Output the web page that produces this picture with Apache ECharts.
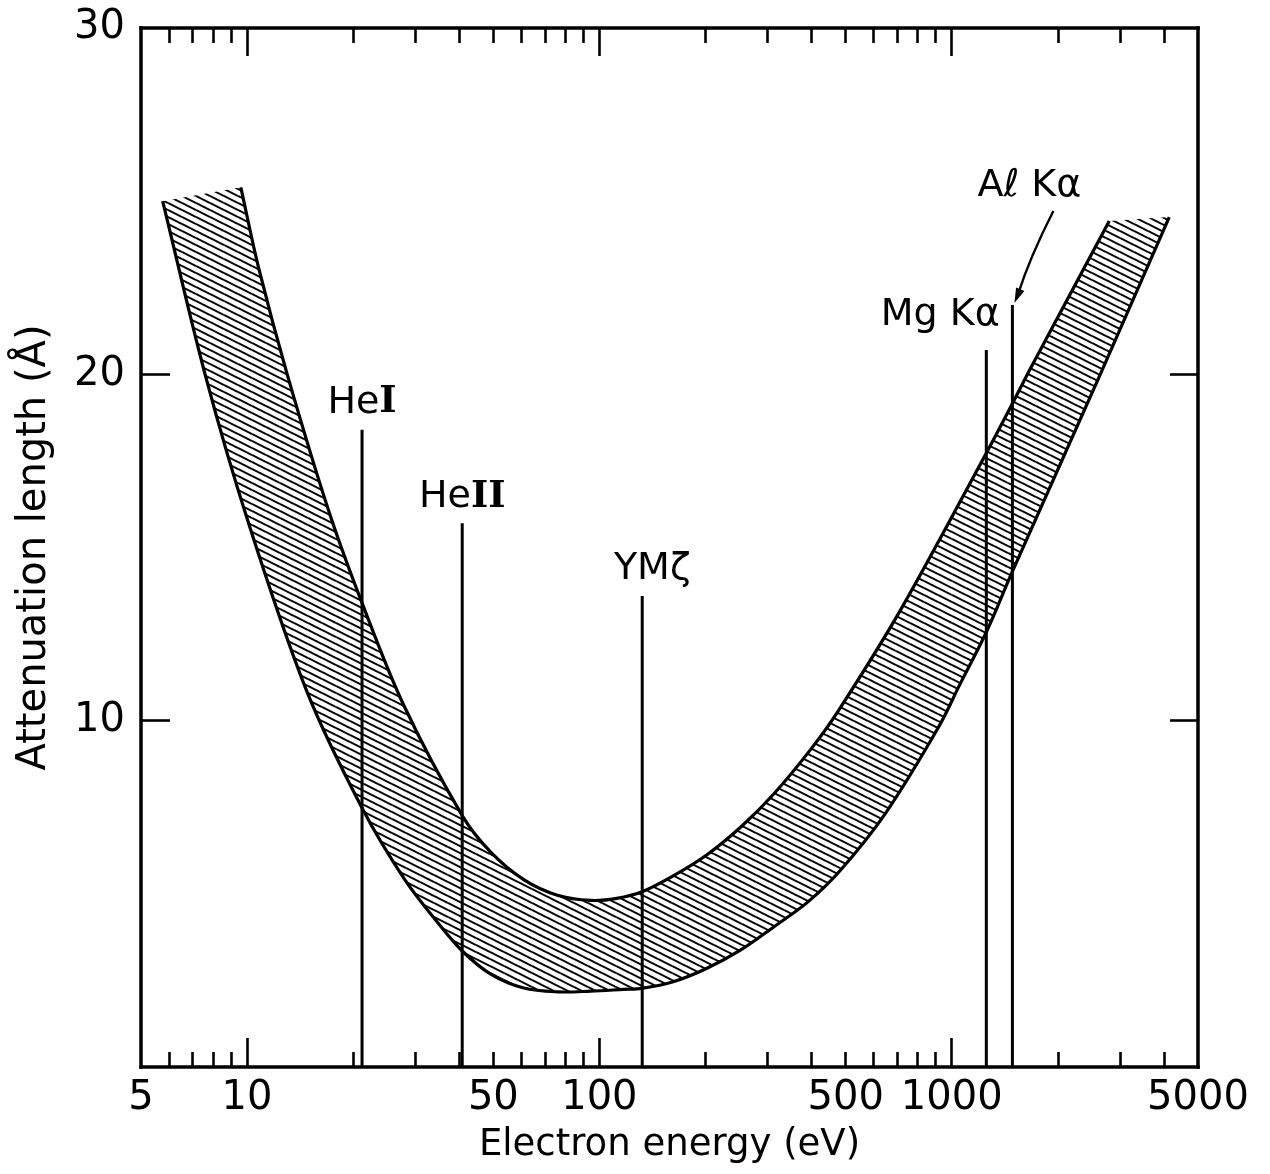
<!DOCTYPE html>
<html>
<head>
<meta charset="utf-8">
<script src="https://cdn.jsdelivr.net/npm/echarts@6/dist/echarts.min.js"></script>
<style>html,body{margin:0;background:#fff}#chart{width:1270px;height:1174px}</style>
</head>
<body>
<div id="chart"></div>
<script>
// Electron attenuation length vs. kinetic energy ("universal curve"), hatched band
// between the two bounding curves, with the common photon sources marked.
const FONT = "DejaVu Sans";

// band edges: energy (eV) and attenuation length (Å)
const upperEnergy = [9.6, 10.8, 13.0, 17.0, 21.2, 27.8, 40.8, 49, 61, 76, 94.5, 112, 132, 162, 202, 252, 313, 400, 477, 716, 1254, 1487, 1677, 2800];
const upperLength = [25.4, 23.05, 20.0, 16.1, 13.4, 10.46, 7.26, 6.22, 5.41, 4.96, 4.81, 4.87, 5.06, 5.52, 6.13, 6.93, 7.89, 9.20, 10.29, 13.2, 17.73, 19.16, 20.19, 24.43];
const lowerEnergy = [5.76, 7.6, 10.1, 14.8, 21.2, 28, 35.4, 40.8, 49, 61, 76, 94.5, 117, 132, 162, 202, 252, 313, 390, 484, 650, 917, 1054, 1254, 1487, 2640, 4144];
const lowerLength = [25.0, 20.0, 15.7, 10.83, 7.48, 5.42, 4.07, 3.35, 2.69, 2.28, 2.17, 2.19, 2.24, 2.27, 2.46, 2.85, 3.38, 4.05, 4.76, 5.69, 7.34, 9.81, 11.04, 12.56, 14.31, 20.0, 24.54];

// photon sources: label, photon energy (eV), height the marker line reaches (Å)
const lineLabels = ["HeⅠ", "HeⅡ", "YMζ", "Mg Kα", "Aℓ Kα"];
const lineEnergy = [21.2, 40.8, 132.3, 1253.6, 1486.6];
const lineTop = [18.4, 15.7, 13.6, 20.7, 22.0];

// axes
const xLabelValues = [5, 10, 50, 100, 500, 1000, 5000];
const xMajorTicks = [10, 100, 1000];
const xMinorTicks = [6, 7, 8, 9, 20, 30, 40, 50, 60, 70, 80, 90, 200, 300, 400, 500, 600, 700, 800, 900, 2000, 3000, 4000];
const yTickValues = [10, 20];
const yLabelValues = [10, 20, 30];

// label placement relative to the top of each marker line (px)
const LABEL_OFFSET = [[0, -27], [0, -26], [10, -27], [-46, -35], [17, -119]];

function hatchCanvas() {
  const c = document.createElement("canvas");
  c.width = 14; c.height = 7;
  const g = c.getContext("2d");
  g.strokeStyle = "#000"; g.lineWidth = 2;
  for (const k of [-1, 0, 1]) { g.beginPath(); g.moveTo(0, k * 7); g.lineTo(14, k * 7 + 7); g.stroke(); }
  return c;
}
const HATCH = { image: hatchCanvas(), repeat: "repeat" };

// smooth curve through the projected points (chord-length tangents), as an SVG path
function spline(pts, cmd) {
  const n = pts.length, d = [], m = [];
  for (let i = 0; i < n - 1; i++) d.push(Math.hypot(pts[i + 1][0] - pts[i][0], pts[i + 1][1] - pts[i][1]));
  for (let i = 0; i < n; i++) {
    const a = pts[Math.max(i - 1, 0)], b = pts[Math.min(i + 1, n - 1)];
    const len = (i > 0 ? d[i - 1] : 0) + (i < n - 1 ? d[i] : 0);
    m.push([(b[0] - a[0]) / len, (b[1] - a[1]) / len]);
  }
  let s = cmd + pts[0][0] + " " + pts[0][1];
  for (let i = 0; i < n - 1; i++) {
    const k = d[i] / 3, p = pts[i], q = pts[i + 1];
    s += " C" + (p[0] + m[i][0] * k) + " " + (p[1] + m[i][1] * k) + " " + (q[0] - m[i + 1][0] * k) + " " + (q[1] - m[i + 1][1] * k) + " " + q[0] + " " + q[1];
  }
  return s;
}

function renderBand(params, api) {
  const up = upperEnergy.map((e, i) => api.coord([e, upperLength[i]]));
  const lo = lowerEnergy.map((e, i) => api.coord([e, lowerLength[i]]));
  const outline = spline(lo, "M") + " " + spline(up.slice().reverse(), "L") + " Z";
  const edge = { stroke: "#000", lineWidth: 3.2, fill: "none", lineJoin: "round" };
  return { type: "group", silent: true, children: [
    { type: "path", shape: { pathData: outline }, style: { fill: HATCH, stroke: "none" } },
    { type: "path", shape: { pathData: spline(lo, "M") }, style: edge },
    { type: "path", shape: { pathData: spline(up, "M") }, style: edge },
  ] };
}

function renderMarker(params, api) {
  const i = api.value(2);
  const base = api.coord([api.value(0), 0]);
  const top = api.coord([api.value(0), api.value(1)]);
  const off = LABEL_OFFSET[i];
  const lx = top[0] + off[0], ly = top[1] + off[1];
  // roman numerals drawn with a slab-serif face, like the lettering of the figure
  const text = lineLabels[i].replace("Ⅱ", "{r|II}").replace("Ⅰ", "{r|I}");
  const kids = [
    { type: "line", shape: { x1: base[0], y1: base[1], x2: top[0], y2: top[1] }, style: { stroke: "#000", lineWidth: 3 } },
    { type: "text", x: lx, y: ly, style: { text, fontFamily: FONT, fontSize: 38, fill: "#000", align: "center", verticalAlign: "middle",
      rich: { r: { fontFamily: "DejaVu Serif", fontWeight: "bold", fontSize: 37, fill: "#000" } } } },
  ];
  if (i === lineLabels.length - 1) {
    // little arrow from the Al Kα label down to its line
    const sx = lx + 24, sy = ly + 25, ex = top[0] + 2, ey = top[1] - 2;
    let dx = ex - sx, dy = ey - sy; const n = Math.hypot(dx, dy); dx /= n; dy /= n;
    kids.push({ type: "path", shape: { pathData: `M${sx} ${sy} Q${(sx + ex) / 2 - 4} ${(sy + ey) / 2} ${ex - dx * 8} ${ey - dy * 8}` }, style: { stroke: "#000", lineWidth: 2.4, fill: "none" } });
    kids.push({ type: "polygon", shape: { points: [[ex, ey], [ex - dx * 15 - dy * 4.5, ey - dy * 15 + dx * 4.5], [ex - dx * 15 + dy * 4.5, ey - dy * 15 - dx * 4.5]] }, style: { fill: "#000", stroke: "none" } });
  }
  return { type: "group", silent: true, children: kids };
}

const frame = { show: true, onZero: false, lineStyle: { color: "#000", width: 3.5, cap: "square" } };
const tickStyle = { color: "#000", width: 2.6 };
const nameStyle = { color: "#000", fontFamily: FONT, fontSize: 37 };
const xBase = { type: "log", logBase: 10, min: 5, max: 5000, splitLine: { show: false }, axisLine: { show: false, onZero: false }, axisTick: { show: false }, axisLabel: { show: false } };
const yBase = { type: "value", min: 0, max: 30, interval: 10, splitLine: { show: false }, axisLine: frame };

const chart = echarts.init(document.getElementById("chart"));
chart.setOption({
  animation: false,
  backgroundColor: "#fff",
  grid: { left: 141, right: 72, top: 28, bottom: 107, containLabel: false, outerBoundsMode: "none" },
  xAxis: [
    { ...xBase, position: "bottom", axisLine: frame,
      axisTick: { show: true, inside: true, length: 29, customValues: xMajorTicks, lineStyle: tickStyle },
      axisLabel: { show: true, customValues: xLabelValues, formatter: (v) => String(Math.round(v)), color: "#000", fontFamily: FONT, fontSize: 40, margin: 12 },
      name: "Electron energy (eV)", nameLocation: "middle", nameGap: 60, nameTextStyle: nameStyle },
    { ...xBase, position: "bottom", axisTick: { show: true, inside: true, length: 15, customValues: xMinorTicks, lineStyle: tickStyle } },
    { ...xBase, position: "top", axisLine: frame, axisTick: { show: true, inside: true, length: 28, customValues: xMajorTicks, lineStyle: tickStyle } },
    { ...xBase, position: "top", axisTick: { show: true, inside: true, length: 15, customValues: xMinorTicks, lineStyle: tickStyle } },
  ],
  yAxis: [
    { ...yBase, position: "left",
      axisTick: { show: true, inside: true, length: 29, customValues: yTickValues, lineStyle: tickStyle },
      axisLabel: { show: true, customValues: yLabelValues, color: "#000", fontFamily: FONT, fontSize: 40, margin: 16 },
      name: "Attenuation length (Å)", nameLocation: "middle", nameRotate: 90, nameGap: 86, nameTextStyle: { ...nameStyle, fontSize: 40 } },
    { ...yBase, position: "right",
      axisTick: { show: true, inside: true, length: 28, customValues: yTickValues, lineStyle: tickStyle },
      axisLabel: { show: false } },
  ],
  series: [
    { type: "custom", name: "band", xAxisIndex: 0, yAxisIndex: 0, silent: true,
      data: [[upperEnergy[0], upperLength[0]]], renderItem: renderBand },
    { type: "custom", name: "sources", xAxisIndex: 0, yAxisIndex: 0, silent: true,
      data: lineEnergy.map((e, i) => [e, lineTop[i], i]), renderItem: renderMarker },
  ],
});
</script>
</body>
</html>
